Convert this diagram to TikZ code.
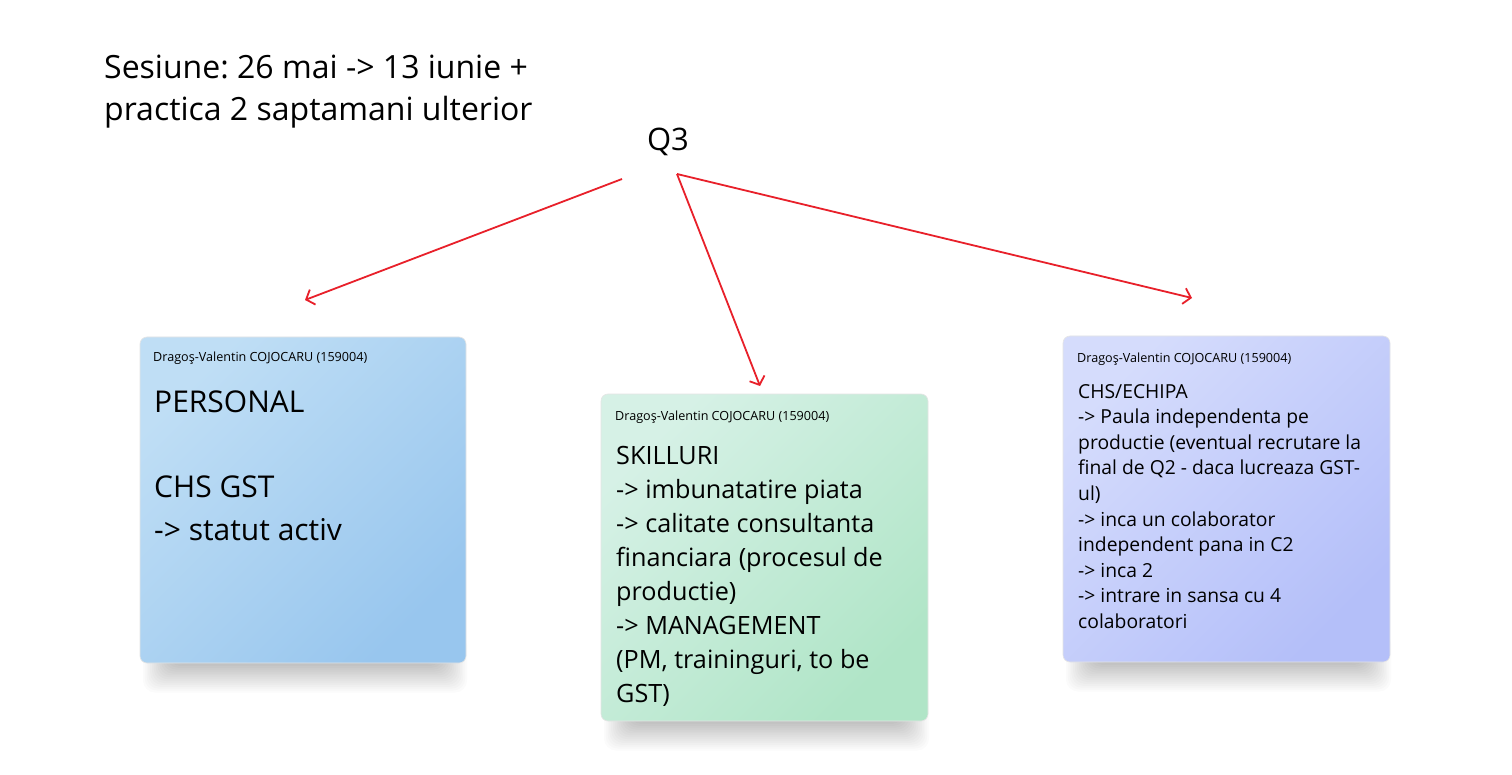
\documentclass[tikz,border=0pt]{standalone}
\usepackage{fontspec}
\setmainfont{Open Sans}
\frenchspacing
\usetikzlibrary{arrows.meta}
\definecolor{arrowred}{HTML}{E8202A}
\definecolor{blueA}{HTML}{BFDEF5}
\definecolor{blueB}{HTML}{98C6EE}
\definecolor{greenA}{HTML}{D6F1E6}
\definecolor{greenB}{HTML}{B0E5C7}
\definecolor{violetA}{HTML}{D5DCFC}
\definecolor{violetB}{HTML}{B4BFF9}
\tikzset{
  notebox/.style={draw=black!10, line width=0.6pt, rounded corners=7pt},
  notehead/.style={anchor=north west, inner sep=0pt, font=\fontsize{12.6}{14}\selectfont},
  notetext/.style={anchor=north west, inner sep=0pt, align=left},
  redarrow/.style={draw=arrowred, line width=1.8pt, -{Straight Barb[length=7pt,width=16pt]}}
}

\begin{document}
\begin{tikzpicture}[x=1pt,y=-1pt]
\useasboundingbox[fill=white] (0,0) rectangle (1512,775);
% shadows under the notes
\foreach \xa/\ya/\xb/\yb in {140/337/466/663,601/394/928/721,1063/336/1390/662}{
  \foreach \i in {0,...,15}
    \fill[black, opacity=0.016, rounded corners=12pt] (\xa+30-\i*1.8,\yb-30) rectangle (\xb-26+\i*1.8,\yb+1+\i*1.9);
}
% notes
\path[notebox, top color=blueA, bottom color=blueB, shading angle=45] (140,337) rectangle (466,663);
\path[notebox, top color=greenA, bottom color=greenB, shading angle=45] (601,394) rectangle (928,721);
\path[notebox, top color=violetA, bottom color=violetB, shading angle=45] (1063,336) rectangle (1390,662);

\node[notehead] (personalhd) at (153,352) {Dragoş-Valentin COJOCARU (159004)};
\node[notetext, font=\fontsize{30}{42.5}\selectfont] (personal) at (154,391)
  {PERSONAL\\\mbox{}\\CHS GST\\-> statut activ};

\node[notehead] (skillhd) at (615,411) {Dragoş-Valentin COJOCARU (159004)};
\node[notetext, font=\fontsize{25.2}{34}\selectfont] (skill) at (616,446)
  {SKILLURI\\-> imbunatatire piata\\-> calitate consultanta\\financiara (procesul de\\productie)\\-> MANAGEMENT\\(PM, traininguri, to be\\GST)};

\node[notehead] (echipahd) at (1077,353) {Dragoş-Valentin COJOCARU (159004)};
\node[notetext, font=\fontsize{19.3}{25.6}\selectfont] (echipa) at (1078,384)
  {CHS/ECHIPA\\-> Paula independenta pe\\productie (eventual recrutare la\\final de Q2 - daca lucreaza GST-\\ul)\\-> inca un colaborator\\independent pana in C2\\-> inca 2\\-> intrare in sansa cu 4\\colaboratori};

% title and Q3
\node[notetext, font=\fontsize{32}{42}\selectfont] (sesiune) at (104,55)
  {Sesiune: 26 mai -> 13 iunie +\\practica 2 saptamani ulterior};
\node[inner sep=0pt, font=\fontsize{31}{36}\selectfont] (q3) at (668,142) {Q3};

% arrows
\coordinate (q3l) at (622,179);
\coordinate (q3r) at (677,174);
\coordinate (tpersonal) at (305,300);
\coordinate (tskill) at (760,386);
\coordinate (techipa) at (1192,298);
\draw[redarrow] (q3l) -- (tpersonal);
\draw[redarrow] (q3r) -- (tskill);
\draw[redarrow] (q3r) -- (techipa);
\end{tikzpicture}
\end{document}
